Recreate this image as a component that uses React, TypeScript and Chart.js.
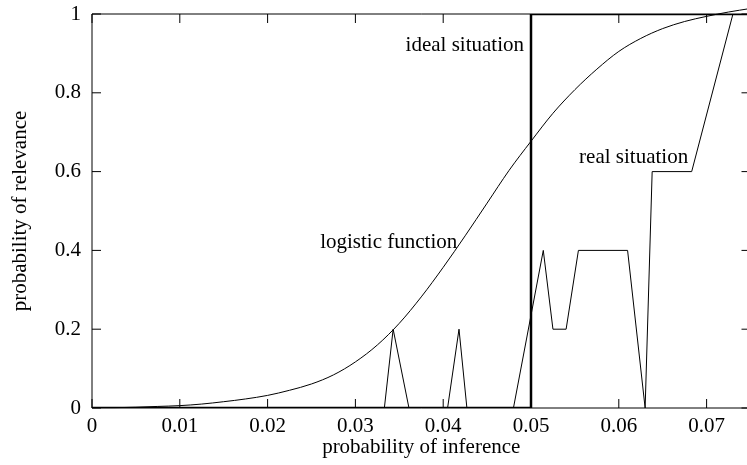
import React, { useEffect, useRef } from "react";
import { Chart, registerables } from "chart.js";

Chart.register(...registerables);

const X_TICKS = [0, 0.01, 0.02, 0.03, 0.04, 0.05, 0.06, 0.07];
const Y_TICKS = [0, 0.2, 0.4, 0.6, 0.8, 1];

const LOGISTIC_X = [
  0, 0.0025, 0.005, 0.0075, 0.01, 0.0125, 0.015, 0.0175, 0.02, 0.0225, 0.025, 0.0275, 0.03, 0.0325, 0.035,
  0.0375, 0.04, 0.0425, 0.045, 0.0475, 0.05, 0.0525, 0.055, 0.0575, 0.06, 0.0625, 0.065, 0.0675, 0.07, 0.0725, 0.075,
];
const LOGISTIC_Y = [
  0.001, 0.001, 0.002, 0.004, 0.006, 0.01, 0.016, 0.023, 0.032, 0.045, 0.061, 0.084, 0.117, 0.16, 0.215,
  0.282, 0.357, 0.437, 0.52, 0.603, 0.677, 0.748, 0.808, 0.86, 0.905, 0.938, 0.963, 0.981, 0.994, 1.005, 1.014,
];

const REAL_X = [0, 0.0333, 0.0343, 0.0361, 0.0405, 0.0418, 0.0427, 0.048, 0.0514, 0.0525, 0.054, 0.0554, 0.061, 0.063, 0.0638, 0.0683, 0.073, 0.075];
const REAL_Y = [0, 0, 0.2, 0, 0, 0.2, 0, 0, 0.4, 0.2, 0.2, 0.4, 0.4, 0, 0.6, 0.6, 1, 1];

const IDEAL_X = [0, 0.05, 0.05, 0.075];
const IDEAL_Y = [0, 0, 1, 1];

const LABEL_TEXTS = ["ideal situation", "logistic function", "real situation"];
const LABEL_X = [0.0492, 0.0416, 0.0679];
const LABEL_Y = [0.921, 0.419, 0.635];

const FONT_FAMILY = '"Liberation Serif", "Times New Roman", serif';
const FONT_SIZE = 21;
const TICK_LEN = 9;

const zip = (xs: number[], ys: number[]) => xs.map((x, i) => ({ x, y: ys[i] }));

const framePlugin = {
  id: "frame",
  beforeDatasetsDraw(chart: any) {
    const { ctx, chartArea } = chart;
    const { left, right, top, bottom } = chartArea;
    const xs = chart.scales.x;
    const ys = chart.scales.y;
    ctx.save();
    ctx.strokeStyle = "#000";
    ctx.lineWidth = 1;
    ctx.beginPath();
    ctx.rect(left, top, right - left, bottom - top);
    ctx.stroke();
    ctx.beginPath();
    X_TICKS.forEach((v) => {
      const p = xs.getPixelForValue(v);
      ctx.moveTo(p, bottom);
      ctx.lineTo(p, bottom - TICK_LEN);
      ctx.moveTo(p, top);
      ctx.lineTo(p, top + TICK_LEN);
    });
    Y_TICKS.forEach((v) => {
      const p = ys.getPixelForValue(v);
      ctx.moveTo(left, p);
      ctx.lineTo(left + TICK_LEN, p);
      ctx.moveTo(right, p);
      ctx.lineTo(right - TICK_LEN, p);
    });
    ctx.stroke();
    ctx.restore();
  },
  afterDraw(chart: any) {
    const { ctx } = chart;
    const xs = chart.scales.x;
    const ys = chart.scales.y;
    ctx.save();
    ctx.fillStyle = "#000";
    ctx.font = `${FONT_SIZE}px ${FONT_FAMILY}`;
    ctx.textAlign = "right";
    ctx.textBaseline = "middle";
    LABEL_TEXTS.forEach((t, i) => {
      ctx.fillText(t, xs.getPixelForValue(LABEL_X[i]), ys.getPixelForValue(LABEL_Y[i]));
    });
    ctx.restore();
  },
};

export default function App() {
  const ref = useRef<HTMLCanvasElement | null>(null);
  useEffect(() => {
    if (!ref.current) return;
    const font = { family: FONT_FAMILY, size: FONT_SIZE };
    const chart = new Chart(ref.current, {
      type: "line",
      data: {
        datasets: [
          {
            label: "logistic function",
            data: zip(LOGISTIC_X, LOGISTIC_Y),
            borderColor: "#000",
            borderWidth: 1,
            pointRadius: 0,
            cubicInterpolationMode: "monotone",
            clip: false as any,
          },
          {
            label: "real situation",
            data: zip(REAL_X, REAL_Y),
            borderColor: "#000",
            borderWidth: 1,
            pointRadius: 0,
            tension: 0,
          },
          {
            label: "ideal situation",
            data: zip(IDEAL_X, IDEAL_Y),
            borderColor: "#000",
            borderWidth: 2.5,
            pointRadius: 0,
            tension: 0,
          },
        ],
      },
      options: {
        animation: false,
        responsive: false,
        maintainAspectRatio: false,
        layout: { padding: { left: 0, right: 9.5, top: 14, bottom: 0 } },
        plugins: { legend: { display: false }, tooltip: { enabled: false } },
        scales: {
          x: {
            type: "linear",
            min: 0,
            max: 0.075,
            grid: { display: false, drawTicks: false },
            border: { display: false },
            afterBuildTicks: (s: any) => {
              s.ticks = X_TICKS.map((v) => ({ value: v }));
            },
            afterFit: (s: any) => {
              s.height = 57;
              s.paddingLeft = 0;
              s.paddingRight = 0;
            },
            ticks: {
              color: "#000",
              font,
              padding: 6,
              maxRotation: 0,
              autoSkip: false,
              callback: (v: any) => String(Number(v)),
            },
            title: {
              display: true,
              text: "probability of inference",
              color: "#000",
              font,
              padding: { top: 0, bottom: 4.6 },
            },
          },
          y: {
            type: "linear",
            min: 0,
            max: 1,
            grid: { display: false, drawTicks: false },
            border: { display: false },
            afterBuildTicks: (s: any) => {
              s.ticks = Y_TICKS.map((v) => ({ value: v }));
            },
            afterFit: (s: any) => {
              s.width = 92;
              s.paddingTop = 0;
              s.paddingBottom = 0;
            },
            ticks: {
              color: "#000",
              font,
              padding: 11,
              autoSkip: false,
              callback: (v: any) => String(Number(v)),
            },
            title: {
              display: true,
              text: "probability of relevance",
              color: "#000",
              font,
              padding: { top: 7.4, bottom: 0 },
            },
          },
        },
      },
      plugins: [framePlugin],
    });
    return () => chart.destroy();
  }, []);
  return (
    <div style={{ position: "fixed", left: 0, top: 0, width: 747, height: 465, overflow: "hidden", background: "#fff" }}>
      <canvas ref={ref} width={760} height={465} style={{ display: "block" }} />
    </div>
  );
}
